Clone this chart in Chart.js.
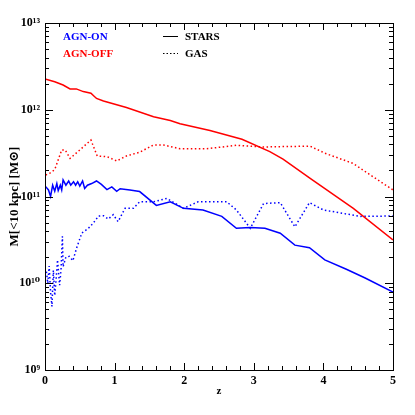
<!DOCTYPE html>
<html>
<head>
<meta charset="utf-8">
<script src="https://cdn.jsdelivr.net/npm/chart.js@4"></script>
<style>
  body { margin: 0; background: #fff; }
  canvas { display: block; }
</style>
</head>
<body>
<canvas id="myChart" width="415" height="415"></canvas>
<script>
// AGN-OFF, stars (red solid)
const zStarsOff = [0, 0.14, 0.26, 0.36, 0.45, 0.55, 0.66, 0.74, 0.84, 1.17, 1.56, 1.80, 1.94, 2.37, 2.83, 3.23, 3.42, 3.81, 4.43, 5.0];
const mStarsOff = [2.26e12, 2.10e12, 1.93e12, 1.74e12, 1.74e12, 1.62e12, 1.55e12, 1.35e12, 1.26e12, 1.06e12, 8.3e11, 7.5e11, 6.9e11, 5.75e11, 4.57e11, 3.29e11, 2.69e11, 1.62e11, 7.3e10, 3.16e10];

// AGN-OFF, gas (red dotted)
const zGasOff = [0.01, 0.07, 0.14, 0.24, 0.29, 0.36, 0.5, 0.66, 0.75, 0.89, 1.03, 1.17, 1.36, 1.56, 1.70, 1.94, 2.32, 2.75, 3.14, 3.4, 3.81, 4.02, 4.43, 4.67, 5.0];
const mGasOff = [1.77e11, 1.86e11, 2.04e11, 3.44e11, 3.44e11, 2.75e11, 3.44e11, 4.47e11, 2.93e11, 2.88e11, 2.57e11, 2.93e11, 3.24e11, 3.93e11, 3.93e11, 3.55e11, 3.55e11, 3.89e11, 3.72e11, 3.76e11, 3.80e11, 3.16e11, 2.40e11, 1.78e11, 1.19e11];

// AGN-ON, stars (blue solid)
const zStarsOn = [0.01, 0.05, 0.08, 0.11, 0.14, 0.17, 0.19, 0.22, 0.24, 0.26, 0.30, 0.34, 0.37, 0.41, 0.44, 0.47, 0.50, 0.54, 0.57, 0.61, 0.67, 0.74, 0.81, 0.89, 0.96, 1.03, 1.08, 1.22, 1.36, 1.60, 1.80, 1.99, 2.27, 2.54, 2.75, 2.95, 3.16, 3.38, 3.59, 3.80, 4.02, 4.33, 4.6, 5.0];
const mStarsOn = [1.30e11, 1.19e11, 1.0e11, 1.35e11, 1.15e11, 1.41e11, 1.17e11, 1.35e11, 1.19e11, 1.55e11, 1.35e11, 1.51e11, 1.35e11, 1.48e11, 1.35e11, 1.48e11, 1.32e11, 1.51e11, 1.24e11, 1.35e11, 1.41e11, 1.51e11, 1.38e11, 1.20e11, 1.29e11, 1.15e11, 1.23e11, 1.19e11, 1.14e11, 7.9e10, 8.7e10, 7.3e10, 7.0e10, 5.9e10, 4.3e10, 4.4e10, 4.3e10, 3.77e10, 2.75e10, 2.57e10, 1.86e10, 1.45e10, 1.15e10, 7.9e9];

// AGN-ON, gas (blue dotted)
const zGasOn = [0.02, 0.04, 0.06, 0.08, 0.1, 0.12, 0.14, 0.16, 0.18, 0.21, 0.23, 0.25, 0.26, 0.30, 0.35, 0.40, 0.46, 0.53, 0.62, 0.69, 0.77, 0.84, 0.91, 0.98, 1.05, 1.15, 1.27, 1.36, 1.56, 1.75, 1.99, 2.20, 2.61, 2.75, 2.95, 3.14, 3.38, 3.59, 3.80, 4.0, 4.53, 5.0];
const mGasOn = [1.36e10, 1.0e10, 1.58e10, 7.9e9, 5.4e9, 1.41e10, 7.2e9, 1.12e10, 1.86e10, 9.5e9, 1.41e10, 3.47e10, 1.55e10, 2.0e10, 2.04e10, 1.82e10, 2.63e10, 3.8e10, 4.27e10, 4.9e10, 5.96e10, 6.0e10, 5.5e10, 6.17e10, 5.13e10, 7.3e10, 7.3e10, 8.7e10, 8.7e10, 9.5e10, 7.3e10, 8.7e10, 8.7e10, 7.0e10, 4.3e10, 8.3e10, 8.5e10, 4.47e10, 8.5e10, 7.0e10, 5.9e10, 5.96e10];

const yTickLabels = { 9: '10⁹', 10: '10¹⁰', 11: '10¹¹', 12: '10¹²', 13: '10¹³' };

function points(zs, ms) {
    return zs.map((z, i) => { return { x: z, y: ms[i] } })
}

const serif = '"Liberation Serif", "DejaVu Serif", serif';

// inward tick marks on all four sides plus the box
const frameTicks = {
    id: 'frameTicks',
    afterDatasetsDraw(chart) {
        const { ctx, chartArea: a, scales: { x, y } } = chart;
        ctx.save();
        ctx.strokeStyle = '#000';
        ctx.lineWidth = 1;
        ctx.strokeRect(a.left + 0.5, a.top + 0.5, a.right - a.left, a.bottom - a.top);
        ctx.beginPath();
        for (let i = 0; i <= 25; i++) {
            const px = Math.round(x.getPixelForValue(i * 0.2)) + 0.5;
            const len = i % 5 === 0 ? 7 : 4;
            ctx.moveTo(px, a.bottom); ctx.lineTo(px, a.bottom - len);
            ctx.moveTo(px, a.top); ctx.lineTo(px, a.top + len);
        }
        for (let e = 9; e <= 12; e++) {
            for (let m = 1; m <= 9; m++) {
                const py = Math.round(y.getPixelForValue(m * Math.pow(10, e))) + 0.5;
                const len = m === 1 ? 8 : 4;
                ctx.moveTo(a.left, py); ctx.lineTo(a.left + len, py);
                ctx.moveTo(a.right, py); ctx.lineTo(a.right - len, py);
            }
        }
        ctx.stroke();
        ctx.restore();
    },
    afterDraw(chart) {
        const ctx = chart.ctx;
        ctx.save();
        ctx.font = 'bold 11px ' + serif;
        ctx.textBaseline = 'middle';
        ctx.fillStyle = '#0000ff';
        ctx.fillText('AGN-ON', 63, 37);
        ctx.fillStyle = '#ff0000';
        ctx.fillText('AGN-OFF', 63, 54);
        ctx.fillStyle = '#000';
        ctx.fillText('STARS', 185, 37);
        ctx.fillText('GAS', 185, 54);
        ctx.strokeStyle = '#000';
        ctx.lineWidth = 1;
        ctx.beginPath();
        ctx.moveTo(163, 36.5); ctx.lineTo(178, 36.5);
        ctx.stroke();
        ctx.setLineDash([1.5, 2]);
        ctx.beginPath();
        ctx.moveTo(163, 53.5); ctx.lineTo(178, 53.5);
        ctx.stroke();
        ctx.restore();
    }
};

const data = {
    datasets: [{
        label: 'AGN-OFF stars',
        data: points(zStarsOff, mStarsOff),
        borderColor: '#ff0000',
        borderWidth: 1.5
    },
    {
        label: 'AGN-OFF gas',
        data: points(zGasOff, mGasOff),
        borderColor: '#ff0000',
        borderWidth: 1.5,
        borderDash: [1.5, 2.5]
    },
    {
        label: 'AGN-ON stars',
        data: points(zStarsOn, mStarsOn),
        borderColor: '#0000ff',
        borderWidth: 1.5
    },
    {
        label: 'AGN-ON gas',
        data: points(zGasOn, mGasOn),
        borderColor: '#0000ff',
        borderWidth: 1.5,
        borderDash: [1.5, 2.5]
    }]
};

const config = {
    type: 'line',
    data: data,
    options: {
        responsive: false,
        animation: false,
        layout: { padding: { top: 23, right: 22, left: 0, bottom: 0 } },
        elements: { point: { radius: 0 }, line: { tension: 0, fill: false } },
        plugins: { legend: { display: false }, tooltip: { enabled: false } },
        scales: {
            x: {
                type: 'linear',
                min: 0,
                max: 5,
                grid: { display: false, drawTicks: false },
                border: { display: false },
                ticks: { stepSize: 1, color: '#000', padding: 4, font: { family: serif, size: 12, weight: 'bold' } },
                title: { display: true, text: 'z', color: '#000', padding: { top: 0, bottom: 17 }, font: { family: serif, size: 11, weight: 'bold' } },
                afterFit: (s) => { s.height = 45; }
            },
            y: {
                type: 'logarithmic',
                min: 1e9,
                max: 1e13,
                grid: { display: false, drawTicks: false },
                border: { display: false },
                ticks: {
                    autoSkip: false,
                    color: '#000',
                    padding: 5,
                    font: { family: serif, size: 12, weight: 'bold' },
                    callback: (v) => {
                        const e = Math.round(Math.log10(v));
                        return Math.abs(Math.log10(v) - e) < 1e-6 ? yTickLabels[e] : '';
                    }
                },
                title: { display: true, text: 'M[<10 kpc] [M⊙]', color: '#000', padding: { top: 7, bottom: 0 }, font: { family: serif, size: 13, weight: 'bold' } },
                afterFit: (s) => { s.width = 45; }
            }
        }
    },
    plugins: [frameTicks]
};

const myChart = new Chart(document.getElementById('myChart'), config);
</script>
</body>
</html>
